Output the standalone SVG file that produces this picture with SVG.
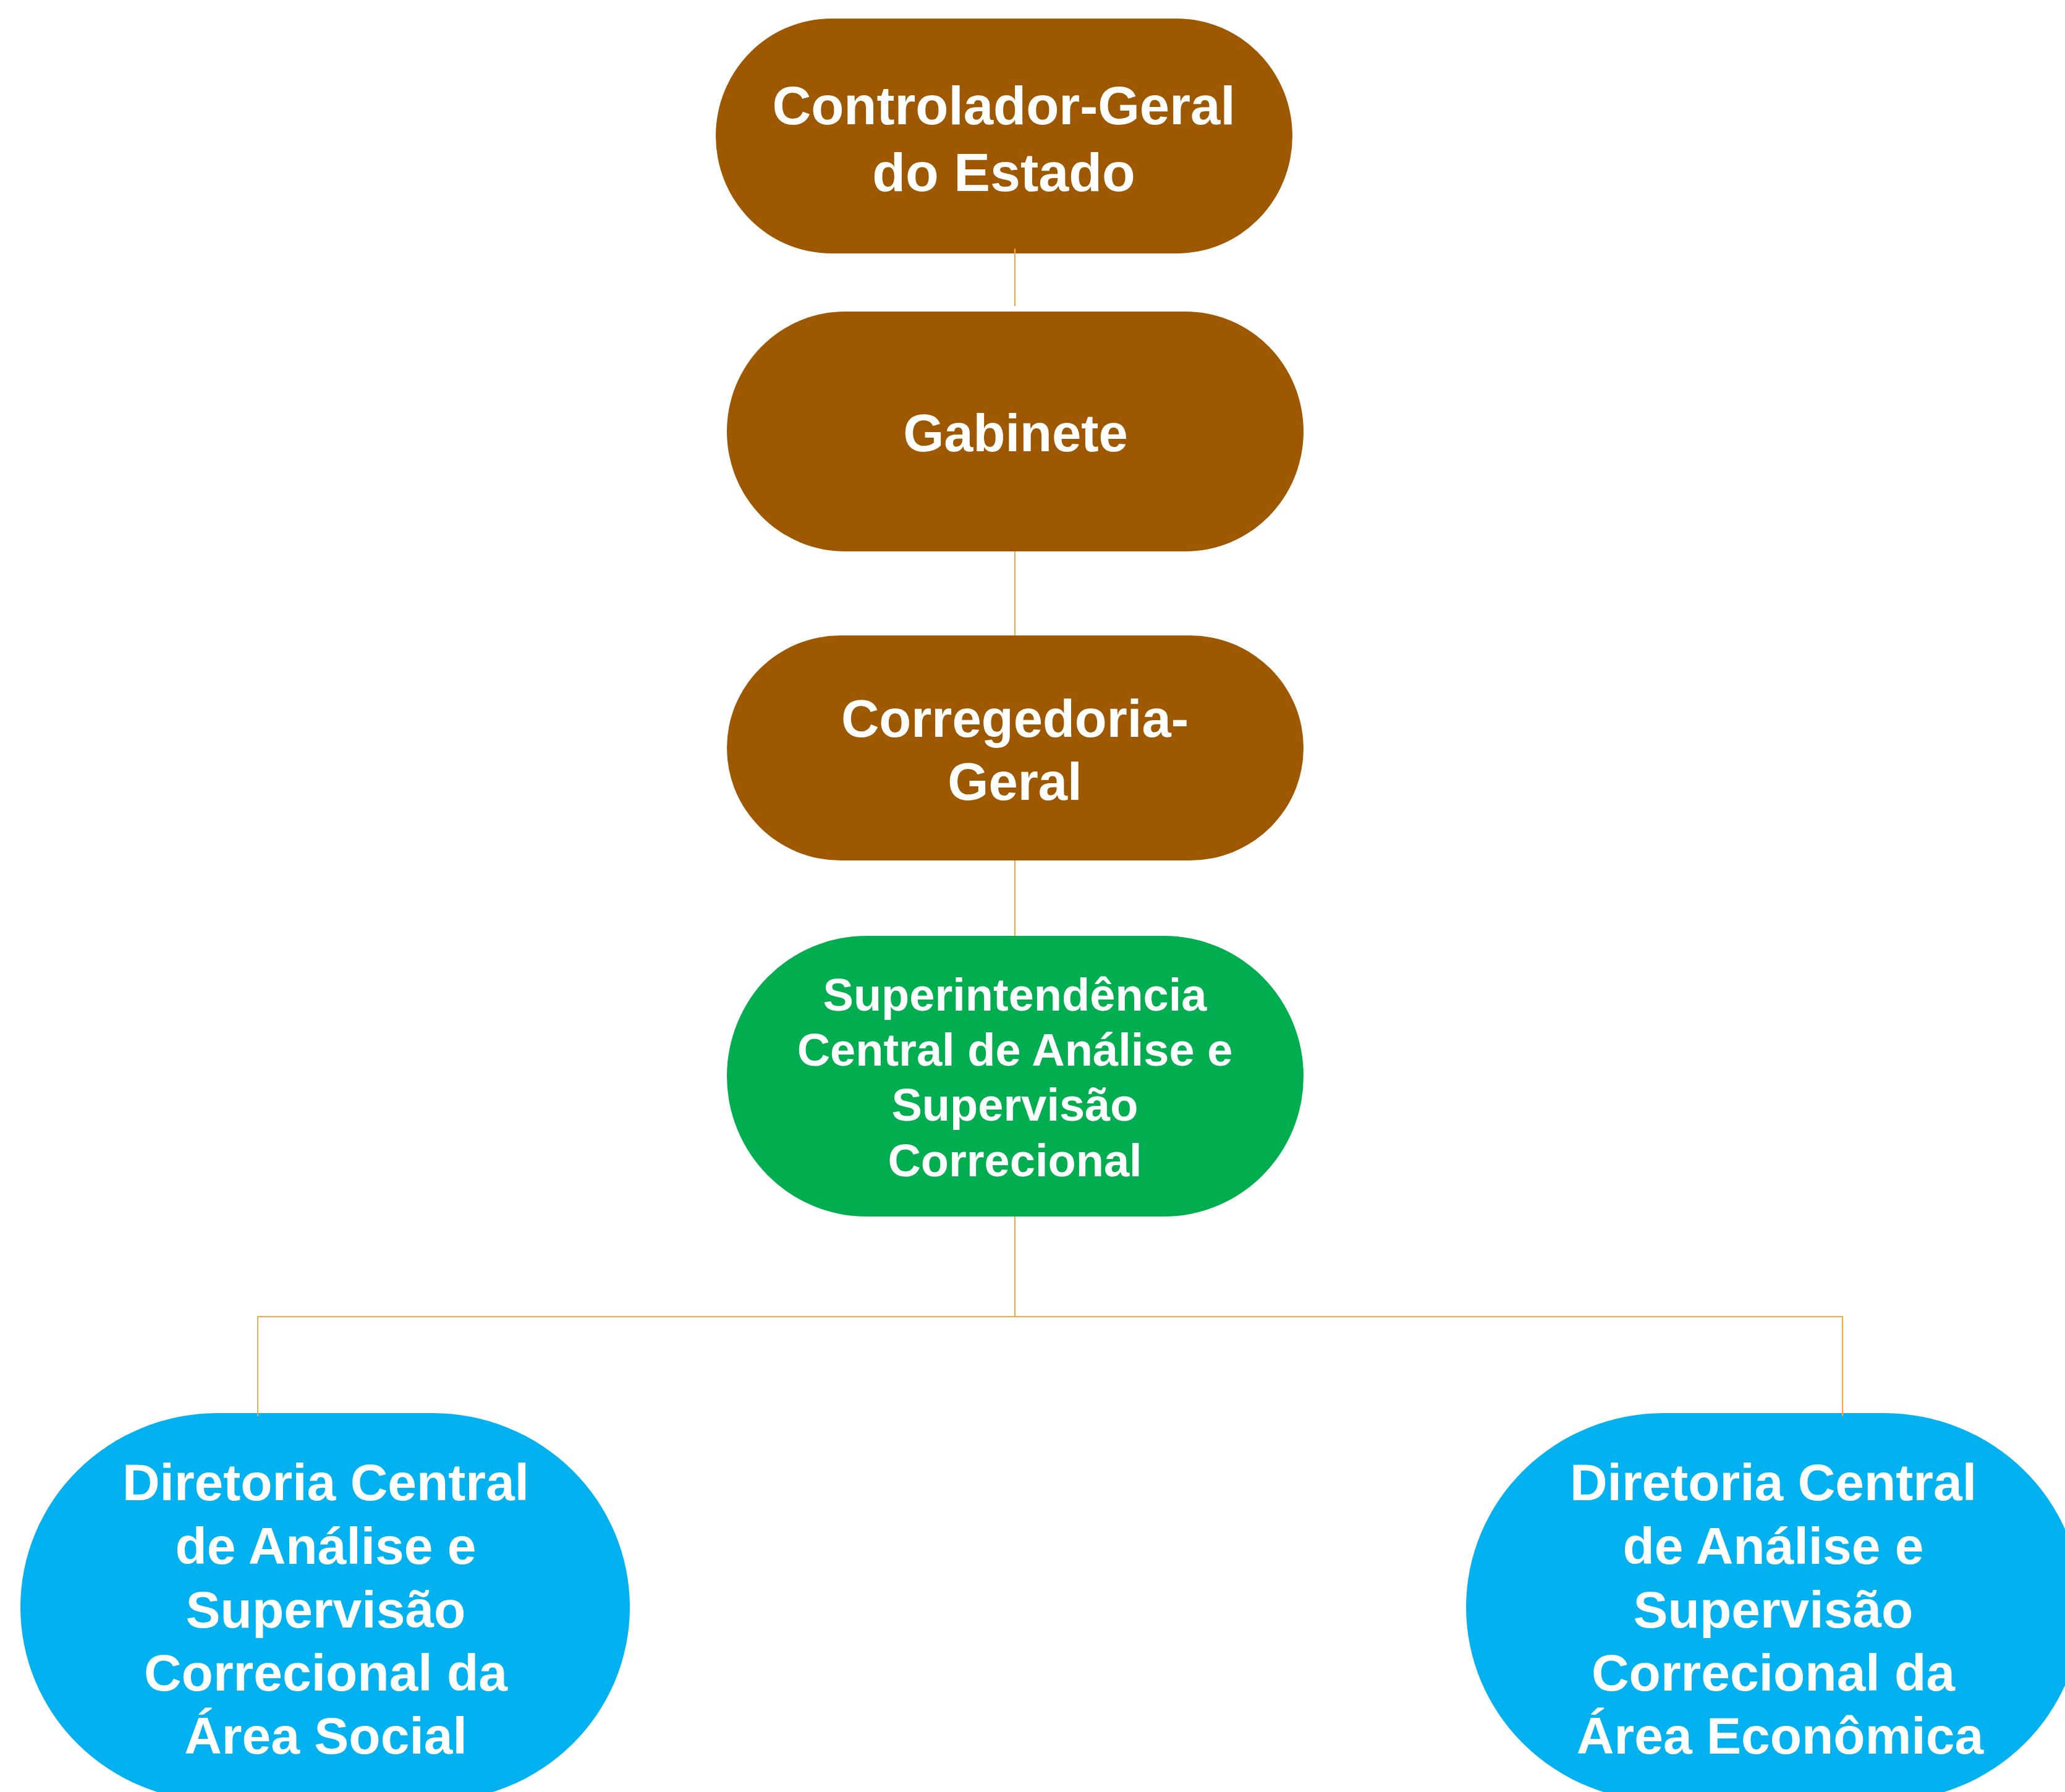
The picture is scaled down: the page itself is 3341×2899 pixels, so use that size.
<svg xmlns="http://www.w3.org/2000/svg" width="3341" height="2899" viewBox="0 0 3341 2899">
  <style>
    .brown { fill: #9E5900; }
    .green { fill: #00AE50; }
    .blue { fill: #02B1F0; }
    .lbl { font-family: "Liberation Sans", Arial, Helvetica, sans-serif; font-weight: bold; fill: #FFFFFF; text-anchor: middle; }
    .conn { stroke: #FAA73F; stroke-width: 2; fill: none; }
  </style>
  <rect x="0" y="0" width="3341" height="2899" fill="#FFFFFF"/>

  <g id="node-controlador">
    <rect class="brown" x="1158" y="30" width="933" height="380" rx="187" ry="190"/>
    <text class="lbl" font-size="87" x="1624" y="201">Controlador-Geral</text>
    <text class="lbl" font-size="88" x="1624" y="309">do Estado</text>
  </g>

  <g id="node-gabinete">
    <rect class="brown" x="1176" y="504" width="933" height="388" rx="191" ry="194"/>
    <text class="lbl" font-size="85" x="1643" y="730">Gabinete</text>
  </g>

  <g id="node-corregedoria">
    <rect class="brown" x="1176" y="1028" width="933" height="364" rx="184" ry="182"/>
    <text class="lbl" font-size="85" x="1642" y="1192">Corregedoria-</text>
    <text class="lbl" font-size="85" x="1642" y="1294">Geral</text>
  </g>

  <g id="node-superintendencia">
    <rect class="green" x="1176" y="1514" width="933" height="454" rx="226" ry="227"/>
    <text class="lbl" font-size="74" x="1642" y="1635">Superintendência</text>
    <text class="lbl" font-size="74" x="1642" y="1724">Central de Análise e</text>
    <text class="lbl" font-size="74" x="1642" y="1813">Supervisão</text>
    <text class="lbl" font-size="74" x="1642" y="1903">Correcional</text>
  </g>

  <g id="node-diretoria-social">
    <rect class="blue" x="33" y="2286" width="986" height="628" rx="319" ry="314"/>
    <text class="lbl" font-size="84" x="527" y="2427">Diretoria Central</text>
    <text class="lbl" font-size="84" x="527" y="2530">de Análise e</text>
    <text class="lbl" font-size="84" x="527" y="2633">Supervisão</text>
    <text class="lbl" font-size="84" x="527" y="2735">Correcional da</text>
    <text class="lbl" font-size="84" x="527" y="2837">Área Social</text>
  </g>

  <g id="node-diretoria-economica">
    <rect class="blue" x="2372" y="2286" width="996" height="628" rx="320" ry="314"/>
    <text class="lbl" font-size="84" x="2869" y="2427">Diretoria Central</text>
    <text class="lbl" font-size="84" x="2869" y="2530">de Análise e</text>
    <text class="lbl" font-size="84" x="2869" y="2633">Supervisão</text>
    <text class="lbl" font-size="84" x="2869" y="2735">Correcional da</text>
    <text class="lbl" font-size="84" x="2880" y="2837">Área Econômica</text>
  </g>

  <g id="connectors">
    <line class="conn" x1="1642" y1="402" x2="1642" y2="495"/>
    <line class="conn" x1="1642" y1="892" x2="1642" y2="1028"/>
    <line class="conn" x1="1642" y1="1392" x2="1642" y2="1514"/>
    <polyline class="conn" points="1642,1968 1642,2130"/>
    <polyline class="conn" points="417,2291 417,2130 2981,2130 2981,2291"/>
  </g>
</svg>
